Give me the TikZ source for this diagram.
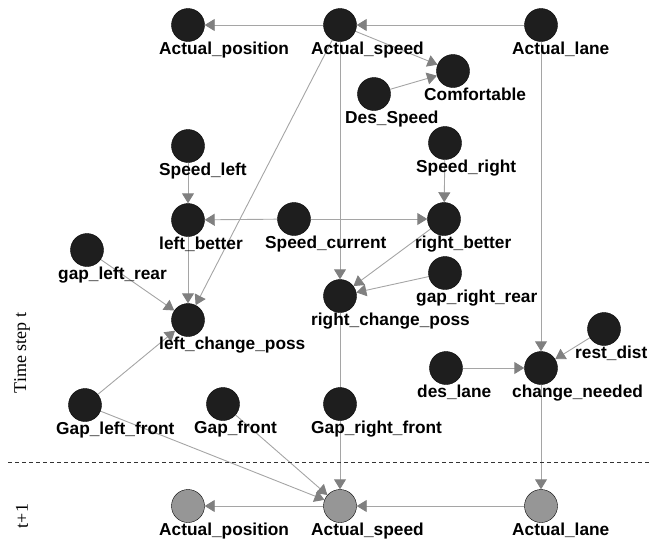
\documentclass[tikz,border=0pt]{standalone}
\usepackage{fontspec}
\setmainfont{Liberation Sans}
\newfontfamily\timefont{Liberation Serif}
\usetikzlibrary{arrows.meta, backgrounds}
\definecolor{nodedark}{RGB}{30, 30, 30}
\definecolor{nodegray}{RGB}{150, 150, 150}
\definecolor{linegray}{RGB}{165, 165, 165}
\definecolor{tipgray}{RGB}{128, 128, 128}
\tikzset{
  var/.style={
    circle, draw=black, fill=nodedark,
    minimum size=33pt, inner sep=0pt
  },
  nextvar/.style={var, fill=nodegray},
  varlabel/.style={
    anchor=north west, xshift=-29pt, inner sep=0pt,
    font=\fontsize{17.3}{20}\selectfont\bfseries
  },
  link/.style={
    draw=linegray, line width=0.9pt,
    -{Triangle[length=10pt, width=12pt, color=tipgray]}
  },
  steplabel/.style={rotate=90, font=\timefont\fontsize{18}{20}\selectfont}
}

\begin{document}
\begin{tikzpicture}[x=1pt, y=-1pt]
        \useasboundingbox (0,0) rectangle (650,542);

        % time step t
        \node[var, label={[varlabel]below:Actual\_position}] (pos_now) at (188,25) {};
        \node[var, label={[varlabel]below:Actual\_speed}] (speed_now) at (340,25) {};
        \node[var, label={[varlabel]below:Actual\_lane}] (lane_now) at (541,25) {};
        \node[var, label={[varlabel]below:Comfortable}] (comfort) at (453,71) {};
        \node[var, label={[varlabel]below:Des\_Speed}] (des_speed) at (374,94) {};
        \node[var, label={[varlabel]below:Speed\_left}] (speed_left) at (188,146) {};
        \node[var, label={[varlabel]below:Speed\_right}] (speed_right) at (445,143) {};
        \node[var, label={[varlabel]below:left\_better}] (left_better) at (188,220) {};
        \node[var, label={[varlabel]below:Speed\_current}] (speed_current) at (294,219) {};
        \node[var, label={[varlabel]below:right\_better}] (right_better) at (444,219) {};
        \node[var, label={[varlabel]below:gap\_left\_rear}] (gap_left_rear) at (87,250) {};
        \node[var, label={[varlabel]below:gap\_right\_rear}] (gap_right_rear) at (445,273) {};
        \node[var, label={[varlabel]below:right\_change\_poss}] (right_change) at (340,296) {};
        \node[var, label={[varlabel]below:left\_change\_poss}] (left_change) at (188,320) {};
        \node[var, label={[varlabel]below:rest\_dist}] (rest_dist) at (604,329) {};
        \node[var, label={[varlabel]below:des\_lane}] (des_lane) at (446,368) {};
        \node[var, label={[varlabel]below:change\_needed}] (change_needed) at (541,368) {};
        \node[var, label={[varlabel]below:Gap\_left\_front}] (gap_left_front) at (85,405) {};
        \node[var, label={[varlabel]below:Gap\_front}] (gap_front) at (223,404) {};
        \node[var, label={[varlabel]below:Gap\_right\_front}] (gap_right_front) at (340,404) {};

        % time step t+1
        \node[nextvar, label={[varlabel]below:Actual\_position}] (pos_next) at (188,506) {};
        \node[nextvar, label={[varlabel]below:Actual\_speed}] (speed_next) at (340,506) {};
        \node[nextvar, label={[varlabel]below:Actual\_lane}] (lane_next) at (541,506) {};

        \node[steplabel] (step_now) at (22,353) {Time step t};
        \node[steplabel] (step_next) at (22,516) {t+1};
        \draw[black!80, line width=0.8pt, dash pattern=on 4pt off 3pt] (8,462) -- (650,462);

        \begin{scope}[on background layer]
          \draw[link] (speed_now) -- (pos_now);
          \draw[link] (lane_now) -- (speed_now);
          \draw[link] (speed_now) -- (comfort);
          \draw[link] (des_speed) -- (comfort);
          \draw[link] (speed_now) -- (left_change);
          \draw[link] (speed_now) -- (right_change);
          \draw[link] (lane_now) -- (change_needed);
          \draw[link] (speed_left) -- (left_better);
          \draw[link] (speed_right) -- (right_better);
          \draw[link] (speed_current) -- (left_better);
          \draw[link] (speed_current) -- (right_better);
          \draw[link] (left_better) -- (left_change);
          \draw[link] (gap_left_rear) -- (left_change);
          \draw[link] (right_better) -- (right_change);
          \draw[link] (gap_right_rear) -- (right_change);
          \draw[link] (rest_dist) -- (change_needed);
          \draw[link] (des_lane) -- (change_needed);
          \draw[link] (gap_left_front) -- (left_change);
          \draw[link] (gap_left_front) -- (speed_next);
          \draw[link] (gap_front) -- (speed_next);
          \draw[link] (right_change) -- (speed_next);
          \draw[link] (change_needed) -- (lane_next);
          \draw[link] (lane_next) -- (speed_next);
          \draw[link] (speed_next) -- (pos_next);
        \end{scope}
      \end{tikzpicture}
\end{document}
